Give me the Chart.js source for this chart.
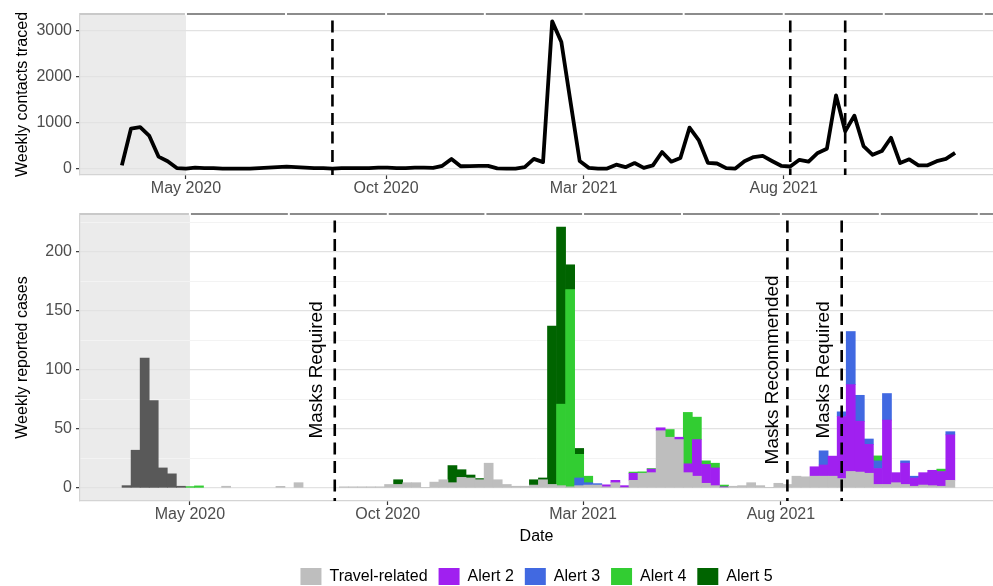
<!DOCTYPE html>
<html lang="en">
<head>
<meta charset="UTF-8">
<title>Weekly contacts traced and reported cases</title>
<script src="https://cdn.jsdelivr.net/npm/chart.js@4.4.1/dist/chart.umd.min.js"></script>
<style>
    html, body { margin: 0; padding: 0; background: #fff; overflow: hidden; }
    .panel { position: absolute; left: 0; }
    #contactsCanvas { top: 0; }
    #casesCanvas { top: 200px; }
</style>
</head>
<body>
<canvas id="contactsCanvas" class="panel" width="993" height="200"></canvas>
<canvas id="casesCanvas" class="panel" width="993" height="400"></canvas>
<script>
// ===== 数据 =====

// 第一周的日期（之后每 7 天一周）
const firstWeek = '2020-03-13';

// 每周追踪的接触者人数
const weeklyContacts = [
    70, 870, 900, 710, 260, 160, 10, 0, 20, 10, 10, 0, 0, 0, 0, 10, 20, 30, 40, 30, 20, 10, 10,
    0, 10, 10, 10, 10, 20, 20, 10, 10, 20, 20, 15, 60, 210, 50, 55, 60, 60, 5, 0, 0, 30, 210,
    140, 3200, 2750, 1450, 165, 15, 0, 0, 85, 30, 120, 15, 70, 360, 150, 230, 890, 620, 125, 110, 10, 0, 160,
    250, 275, 165, 60, 45, 190, 150, 340, 430, 1590, 810, 1150, 490, 300, 380, 670, 120, 200, 70, 70, 160, 210, 340
];

// 每周报告病例，按来源分类（自下而上堆叠）
const earlyCases = [
    2, 32, 110, 74, 17, 12, 1.5, 0, 0, 0, 0, 0, 0, 0, 0, 0, 0, 0, 0, 0, 0, 0, 0,
    0, 0, 0, 0, 0, 0, 0, 0, 0, 0, 0, 0, 0, 0, 0, 0, 0, 0, 0, 0, 0, 0, 0,
    0, 0, 0, 0, 0, 0, 0, 0, 0, 0, 0, 0, 0, 0, 0, 0, 0, 0, 0, 0, 0, 0, 0,
    0, 0, 0, 0, 0, 0, 0, 0, 0, 0, 0, 0, 0, 0, 0, 0, 0, 0, 0, 0, 0, 0, 0
];
const travelCases = [
    0, 0, 0, 0, 0, 0, 0, 0, 0, 0, 0, 1.5, 0, 0, 0, 0, 0, 1.4, 0, 4.5, 0, 0, 0,
    0, 1, 1, 1, 1, 1, 3, 3, 4.5, 4.5, 0.5, 5, 7, 4.5, 9, 8.5, 7, 21, 7, 3, 1.5, 1.5, 2.5,
    7, 3, 2, 1, 2, 2.5, 2.5, 1, 4.5, 0.5, 6.5, 12.5, 13, 48.5, 43, 41, 13, 10, 4, 2, 0.5, 1.5, 2,
    4.5, 2, 0.5, 4, 3, 10, 9.5, 10, 10, 10, 8, 14, 13.5, 12.5, 3, 3, 4.5, 3, 1.5, 2.5, 2, 1.5, 6.5
];
const alert2Cases = [
    0, 0, 0, 0, 0, 0, 0, 0, 0, 0, 0, 0, 0, 0, 0, 0, 0, 0, 0, 0, 0, 0, 0,
    0, 0, 0, 0, 0, 0, 0, 0, 0, 0, 0, 0, 0, 0, 0, 0, 0, 0, 0, 0, 0, 0, 0,
    0, 0, 0, 0, 0, 0, 0, 1.7, 2, 1.5, 6, 0, 3, 2.5, 0, 2, 7.5, 31, 16, 15, 0.5, 0, 0,
    0, 0, 0, 0, 0, 0, 0, 8, 9.5, 17, 52.5, 73.5, 43, 24.5, 13.5, 54.5, 8.5, 18, 7, 10.5, 13, 12.5, 38.5
];
const alert3Cases = [
    0, 0, 0, 0, 0, 0, 0, 0, 0, 0, 0, 0, 0, 0, 0, 0, 0, 0, 0, 0, 0, 0, 0,
    0, 0, 0, 0, 0, 0, 0, 0, 0, 0, 0, 0, 0, 0, 0, 0, 0, 0, 0, 0, 0, 0, 0,
    0, 0, 0, 0, 6.5, 2, 1.2, 0, 0, 0, 0, 0, 0, 0, 0, 0, 0, 0, 0, 0, 0, 0, 0,
    0, 0, 0, 0, 0, 0, 0, 0, 12, 0, 4, 45, 22, 4.5, 6.5, 22.5, 0, 2, 1.5, 0, 0, 0, 2.7
];
const alert4Cases = [
    0, 0, 0, 0, 0, 0, 0, 1.2, 1.8, 0, 0, 0, 0, 0, 0, 0, 0, 0, 0, 0, 0, 0, 0,
    0, 0, 0, 0, 0, 0, 0, 0, 0, 0, 0, 0, 0, 0, 0, 0, 0, 0, 0, 0, 0, 0, 0,
    0, 0, 69, 167, 20, 5.5, 0, 0, 0, 0, 1, 1.2, 0.5, 0, 6.5, 0, 43.5, 19, 3, 4, 1.5, 0, 0,
    0, 0, 0, 0, 0, 0, 0, 0, 0, 0, 0, 0, 0, 0, 4.2, 0, 0, 0, 0, 0, 0, 2, 0
];
const alert5Cases = [
    0, 0, 0, 0, 0, 0, 0, 0, 0, 0, 0, 0, 0, 0, 0, 0, 0, 0, 0, 0, 0, 0, 0,
    0, 0, 0, 0, 0, 0, 0, 4, 0, 0, 0, 0, 0, 14.5, 6.5, 2.5, 1, 0, 0, 0, 0, 0, 4.5,
    1.5, 134, 150, 21, 5, 0, 0, 0, 0, 0, 0, 0, 0, 0, 0, 0, 0, 0, 0, 0, 0, 0, 0,
    0, 0, 0, 0, 0, 0, 0, 0, 0, 0, 0, 0, 0, 0, 0, 0, 0, 0, 0, 0, 0, 0, 0
];

// 横轴刻度
const xTickDates = ['2020-05-01', '2020-10-01', '2021-03-01', '2021-08-01'];
const xTickLabels = ['May 2020', 'Oct 2020', 'Mar 2021', 'Aug 2021'];
const xBreakDates = ['2020-05-01', '2020-10-01', '2021-03-01', '2021-08-01', '2022-01-01'];

// 纵轴刻度
const contactTicks = [0, 1000, 2000, 3000];
const caseTicks = [0, 50, 100, 150, 200];
const caseMinorTicks = [25, 75, 125, 175, 225];

// 口罩政策时间点
const maskDates = ['2020-08-21', '2021-08-06', '2021-09-17'];
const maskLabels = ['Masks Required', 'Masks Recommended', 'Masks Required'];
const maskLabelValue = 100;

// 阴影区域截止日期
const shadeEndDate = '2020-05-01';

// ===== 工具函数 =====
const FONT = "'Liberation Sans', Arial, sans-serif";
const TICK_COLOR = '#4D4D4D';
const DAY_MS = 24 * 60 * 60 * 1000;
const ORIGIN = Date.parse('2020-05-01');

/**
 * 日期字符串 -> 相对 2020-05-01 的天数
 */
function dayOf(dateStr) {
    return (Date.parse(dateStr) - ORIGIN) / DAY_MS;
}

const weekDays = weeklyContacts.map((_, i) => dayOf(firstWeek) + 7 * i);

function toPoints(values) {
    return weekDays.map((d, i) => ({ x: d, y: values[i] }));
}

// 柱状图：0 值不画（否则会留下一条细线）
function toBarPoints(values) {
    return weekDays.map((d, i) => ({ x: d, y: values[i] === 0 ? null : values[i] }));
}

/**
 * 横轴配置
 */
function buildXScale(range, axisHeight, titleText) {
    return {
        type: 'linear',
        min: range[0],
        max: range[1],
        offset: false,
        stacked: true,
        afterBuildTicks: (scale) => {
            scale.ticks = xTickDates.map(d => ({ value: dayOf(d) }));
        },
        afterFit: (scale) => { scale.height = axisHeight; },
        ticks: {
            autoSkip: false,
            maxRotation: 0,
            padding: 0,
            color: TICK_COLOR,
            font: { family: FONT, size: 16 },
            callback: (value, index) => xTickLabels[index]
        },
        grid: { drawOnChartArea: false, offset: false, tickLength: 4, tickColor: '#333333', tickWidth: 1.2 },
        border: { color: '#D4D4D4', width: 1.2 },
        title: titleText
            ? { display: true, text: titleText, color: '#000000', font: { family: FONT, size: 16 }, padding: { top: 0, bottom: 11 } }
            : { display: false }
    };
}

/**
 * 纵轴配置（主刻度带标签，次刻度只画浅色网格线）
 */
function buildYScale(range, majorTicks, minorTicks, titleText) {
    const isMajor = (ctx) => ctx.tick && majorTicks.includes(ctx.tick.value);
    return {
        min: range[0],
        max: range[1],
        stacked: true,
        afterBuildTicks: (scale) => {
            scale.ticks = majorTicks.concat(minorTicks).sort((a, b) => a - b).map(v => ({ value: v }));
        },
        afterFit: (scale) => { scale.width = 80; },
        ticks: {
            autoSkip: false,
            padding: 4,
            color: TICK_COLOR,
            font: { family: FONT, size: 16 },
            callback: (value) => majorTicks.includes(value) ? String(value) : ''
        },
        grid: {
            color: (ctx) => isMajor(ctx) ? '#E2E2E2' : '#F3F3F3',
            lineWidth: (ctx) => isMajor(ctx) ? 1.3 : 1,
            tickLength: 4,
            tickColor: (ctx) => isMajor(ctx) ? '#333333' : 'rgba(0,0,0,0)',
            tickWidth: 1.2
        },
        border: { color: '#D4D4D4', width: 1.2 },
        title: {
            display: true,
            text: titleText,
            color: '#000000',
            font: { family: FONT, size: 16 },
            padding: { top: 13, bottom: 0 }
        }
    };
}

// 阴影、虚线、标注和顶部边框
const panelDecor = {
    id: 'panelDecor',
    beforeDraw(chart) {
        const { ctx, chartArea: a, scales: { x } } = chart;
        const xe = x.getPixelForValue(dayOf(shadeEndDate));
        ctx.save();
        ctx.fillStyle = '#EBEBEB';
        ctx.fillRect(a.left, a.top, xe - a.left, a.bottom - a.top);
        ctx.restore();
    },
    afterDatasetsDraw(chart, args, opts) {
        const { ctx, chartArea: a, scales: { x, y } } = chart;
        ctx.save();

        // 政策时间点虚线
        ctx.strokeStyle = '#000000';
        ctx.lineWidth = 2.6;
        ctx.setLineDash([12, 6.5]);
        ctx.lineDashOffset = 12;
        maskDates.forEach(d => {
            const px = x.getPixelForValue(dayOf(d));
            ctx.beginPath();
            ctx.moveTo(px, a.top);
            ctx.lineTo(px, a.bottom);
            ctx.stroke();
        });
        ctx.setLineDash([]);

        // 竖排文字，放在虚线左侧
        if (opts.showLabels) {
            ctx.font = `19px ${FONT}`;
            ctx.fillStyle = '#000000';
            ctx.textAlign = 'center';
            ctx.textBaseline = 'alphabetic';
            maskDates.forEach((d, i) => {
                const px = x.getPixelForValue(dayOf(d));
                const m = ctx.measureText(maskLabels[i]);
                const baseX = px - 9 - m.actualBoundingBoxDescent;
                ctx.save();
                ctx.translate(baseX, y.getPixelForValue(maskLabelValue));
                ctx.rotate(-Math.PI / 2);
                ctx.fillText(maskLabels[i], 0, 0);
                ctx.restore();
            });
        }
        ctx.restore();
    },
    afterDraw(chart) {
        const { ctx, chartArea: a, scales: { x } } = chart;
        const xs = x.getPixelForValue(dayOf(shadeEndDate));
        ctx.save();
        ctx.fillStyle = '#C9C9C9';
        ctx.fillRect(a.left, a.top - 1, xs - a.left, 2);
        ctx.fillStyle = '#8C8C8C';
        ctx.fillRect(xs, a.top - 1, a.right - xs, 2);

        // 网格断点处留白
        const breaks = xBreakDates.map(dayOf);
        const gaps = breaks.slice();
        for (let i = 0; i < breaks.length - 1; i++) {
            gaps.push((breaks[i] + breaks[i + 1]) / 2);
        }
        ctx.fillStyle = '#FFFFFF';
        gaps.forEach(g => {
            const px = x.getPixelForValue(g);
            if (px > a.left && px < a.right) {
                ctx.fillRect(px - 1, a.top - 1.5, 2, 3);
            }
        });
        ctx.restore();
    }
};

// ===== 上图：每周追踪接触者 =====
new Chart(document.getElementById('contactsCanvas'), {
    type: 'line',
    data: {
        datasets: [{
            label: 'Weekly contacts traced',
            data: toPoints(weeklyContacts),
            borderColor: '#000000',
            borderWidth: 3.8,
            borderJoinStyle: 'round',
            pointRadius: 0,
            tension: 0,
            fill: false
        }]
    },
    options: {
        responsive: false,
        animation: false,
        layout: { padding: { top: 14, right: 0, bottom: 0, left: 0 } },
        plugins: {
            legend: { display: false },
            tooltip: { enabled: false },
            panelDecor: { showLabels: false }
        },
        scales: {
            x: buildXScale([-81, 617], 25, null),
            y: buildYScale([-140, 3360], contactTicks, [], 'Weekly contacts traced')
        }
    },
    plugins: [panelDecor]
});

// ===== 下图：每周报告病例 =====
const caseSeries = [
    { label: 'Early period', values: earlyCases, color: '#595959' },
    { label: 'Travel-related', values: travelCases, color: '#BEBEBE' },
    { label: 'Alert 2', values: alert2Cases, color: '#A020F0' },
    { label: 'Alert 3', values: alert3Cases, color: '#4169E1' },
    { label: 'Alert 4', values: alert4Cases, color: '#32CD32' },
    { label: 'Alert 5', values: alert5Cases, color: '#006400' }
];

new Chart(document.getElementById('casesCanvas'), {
    type: 'bar',
    data: {
        datasets: caseSeries.map(s => ({
            label: s.label,
            data: toBarPoints(s.values),
            backgroundColor: s.color,
            borderColor: s.color,
            borderWidth: 0,
            barPercentage: 1,
            categoryPercentage: 1
        }))
    },
    options: {
        responsive: false,
        animation: false,
        layout: { padding: { top: 14, right: 0, bottom: 5, left: 0 } },
        plugins: {
            legend: {
                position: 'bottom',
                fullSize: false,
                align: 'center',
                labels: {
                    filter: (item) => item.datasetIndex > 0,
                    boxWidth: 21,
                    boxHeight: 17,
                    padding: 11,
                    color: '#000000',
                    font: { family: FONT, size: 16 }
                }
            },
            tooltip: { enabled: false },
            panelDecor: { showLabels: true }
        },
        scales: {
            x: buildXScale([-85, 621], 56, 'Date'),
            y: buildYScale([-11, 232], caseTicks, caseMinorTicks, 'Weekly reported cases')
        }
    },
    plugins: [panelDecor]
});
</script>
</body>
</html>
